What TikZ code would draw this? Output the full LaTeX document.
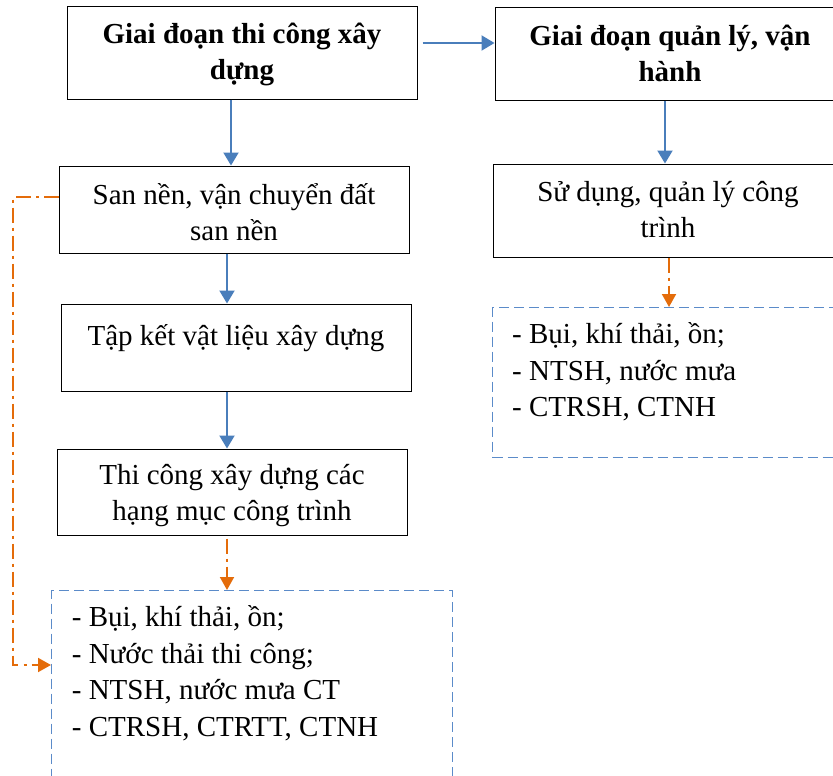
\documentclass[tikz,border=0pt]{standalone}
\usepackage{fontspec}
\setmainfont{Liberation Serif}
\usetikzlibrary{arrows.meta,calc}
\definecolor{lineblue}{HTML}{4A7EBB}
\definecolor{dashblue}{HTML}{5B8BC9}
\definecolor{orangeline}{HTML}{E46C0A}
\begin{document}
\begin{tikzpicture}[x=1pt,y=1pt,
  box/.style={draw=black, line width=1pt, minimum width=350pt, inner sep=0pt},
  boxtext/.style={align=center, inner sep=0pt, anchor=base, font=\fontsize{29}{36}\selectfont},
  boldtext/.style={boxtext, font=\fontsize{29}{36}\selectfont\bfseries},
  dbox/.style={draw=dashblue, line width=1.2pt, dash pattern=on 10pt off 5pt, inner sep=0pt},
  listtext/.style={align=left, inner sep=0pt, anchor=base west, font=\fontsize{29}{36.5}\selectfont},
  barrow/.style={draw=lineblue, line width=2pt, -{Triangle[width=15pt,length=13pt]}},
  oarrow/.style={draw=orangeline, line width=2pt, dash pattern=on 15pt off 5pt on 3pt off 5pt,
    -{Triangle[width=14pt,length=13pt]}}]
\useasboundingbox (0,0) rectangle (833,-776);
\clip (0,0) rectangle (833,-776);
% boxes
\node[box, minimum height=92pt] (b1) at (242,-53) {};
\node[box, minimum height=92pt] (b2) at (670,-54) {};
\node[box, minimum height=93pt] (u1) at (668,-210.5) {};
\node[box, minimum height=87pt] (s1) at (234,-209.5) {};
\node[box, minimum height=87pt] (s2) at (236,-347.5) {};
\node[box, minimum height=86pt] (s3) at (232,-492) {};
% box texts (anchored at the baseline of their last line)
\node[boldtext] (b1t) at ([yshift=-27]b1.center) {Giai đoạn thi công xây\\dựng};
\node[boldtext] (b2t) at ([yshift=-27.7]b2.center) {Giai đoạn quản lý, vận\\hành};
\node[boxtext] (u1t) at ([yshift=-27]u1.center) {Sử dụng, quản lý công\\trình};
\node[boxtext] (s1t) at ([yshift=-30.5]s1.center) {San nền, vận chuyển đất\\san nền};
\node[boxtext] (s2t) at ([yshift=2]s2.center) {Tập kết vật liệu xây dựng};
\node[boxtext] (s3t) at ([yshift=-28]s3.center) {Thi công xây dựng các\\hạng mục công trình};
% dashed boxes
\node[dbox, minimum width=353pt, minimum height=150pt, anchor=north west] (R) at (492,-307) {};
\node[dbox, minimum width=401pt, minimum height=220pt, anchor=north west] (L) at (51,-590) {};
\node[listtext] (Rt) at (512,-416.5) {- Bụi, khí thải, ồn;\\- NTSH, nước mưa\\- CTRSH, CTNH};
\node[listtext] (Lt) at (71.7,-736) {- Bụi, khí thải, ồn;\\- Nước thải thi công;\\- NTSH, nước mưa CT\\- CTRSH, CTRTT, CTNH};
% arrows
\draw[barrow] ([shift={(5,10)}]b1.east) -- ([yshift=10]b1.east -| b2.west);
\draw[barrow] ([xshift=-11]b1.south) -- ([xshift=-11]b1.south |- s1.north);
\draw[barrow] ([xshift=-5]b2.south) -- ([xshift=-5]b2.south |- u1.north);
\draw[barrow] ([xshift=-7]s1.south) -- ([xshift=-7]s1.south |- s2.north);
\draw[barrow] ([xshift=-9]s2.south) -- ([xshift=-9]s2.south |- s3.north);
\draw[oarrow] ([shift={(-5,-3)}]s3.south) -- ([xshift=-5]s3.south |- L.north);
\draw[oarrow] ([xshift=1]u1.south) -- ([xshift=1]u1.south |- R.north);
\coordinate (lp1) at (13,-197);
\coordinate (lp2) at (13,-665);
\draw[oarrow] ([yshift=12.5]s1.west) -- ([yshift=12.5]s1.west -| lp1) -- (lp2) -- (lp2 -| L.west);
\end{tikzpicture}
\end{document}
